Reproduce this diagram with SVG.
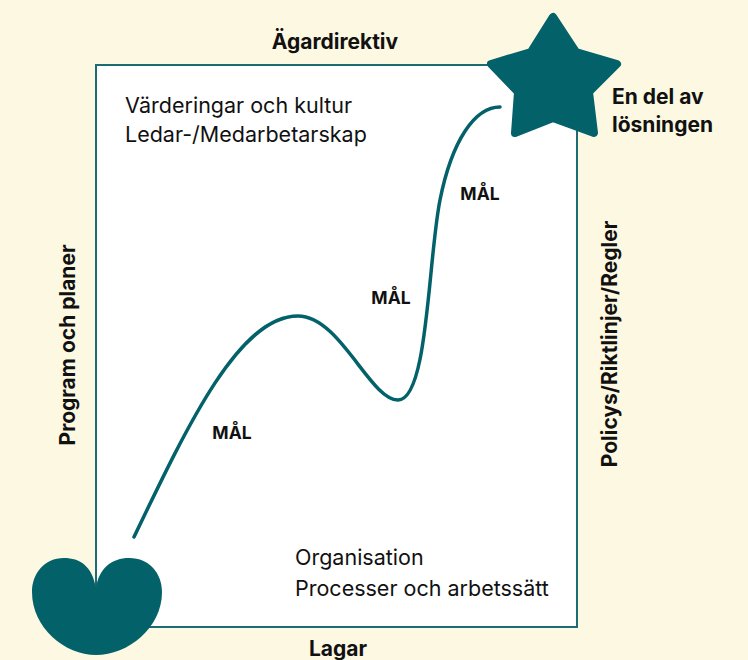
<svg xmlns="http://www.w3.org/2000/svg" width="748" height="660" viewBox="0 0 748 660">
<style>
.b{font-family:Inter,"Liberation Sans",sans-serif;font-weight:700;fill:#111;}
.r{font-family:Inter,"Liberation Sans",sans-serif;font-weight:400;fill:#111;font-size:21.5px;}
.lbl{font-size:21px;}
.mal{font-size:17.5px;text-anchor:middle;}
.teal{fill:#03616a;}
</style>
<rect width="748" height="660" fill="#fdf8e1"/>
<g id="frame">
<rect x="96" y="65" width="481" height="562" fill="#ffffff" stroke="#1b6d73" stroke-width="2"/>
</g>
<g id="connectors">
<path d="M134,537 C190,420 240,316 298,316 C340,316 370,400 398,400 C428,400 428,260 440,200 C452,140 475,107 500,107" fill="none" stroke="#03616a" stroke-width="3.5" stroke-linecap="round"/>
</g>
<g id="heart">
<path class="teal" d="M96,588 C92,566 80,558 64,558 C44,558 32,574 32,592 C32,628 65,655 96,655 C128,655 162,628 162,592 C162,574 150,558 129,558 C112,558 99,568 96,588 Z"/>
</g>
<g id="star">
<polygon class="teal" stroke="#03616a" stroke-width="8" stroke-linejoin="round" points="553,17 531,52 491,64 518,92 515,133 553,118 594,133 589,92 617,64 576,52"/>
</g>
<g id="labels">
<text class="b lbl" x="335" y="49" text-anchor="middle">Ägardirektiv</text>
<text class="b lbl" x="338" y="656" text-anchor="middle">Lagar</text>
<text class="b lbl" transform="translate(75,345) rotate(-90)" text-anchor="middle">Program och planer</text>
<text class="b lbl" transform="translate(617,344) rotate(-90)" text-anchor="middle">Policys/Riktlinjer/Regler</text>
<text class="b lbl" x="612" y="104">En del av</text>
<text class="b lbl" x="612" y="132">lösningen</text>
<text class="r" x="125" y="113">Värderingar och kultur</text>
<text class="r" x="125" y="142">Ledar-/Medarbetarskap</text>
<text class="r" x="295" y="565">Organisation</text>
<text class="r" x="295" y="596">Processer och arbetssätt</text>
<text class="b mal" x="232" y="439">MÅL</text>
<text class="b mal" x="391" y="304">MÅL</text>
<text class="b mal" x="480" y="200">MÅL</text>
</g>
</svg>
